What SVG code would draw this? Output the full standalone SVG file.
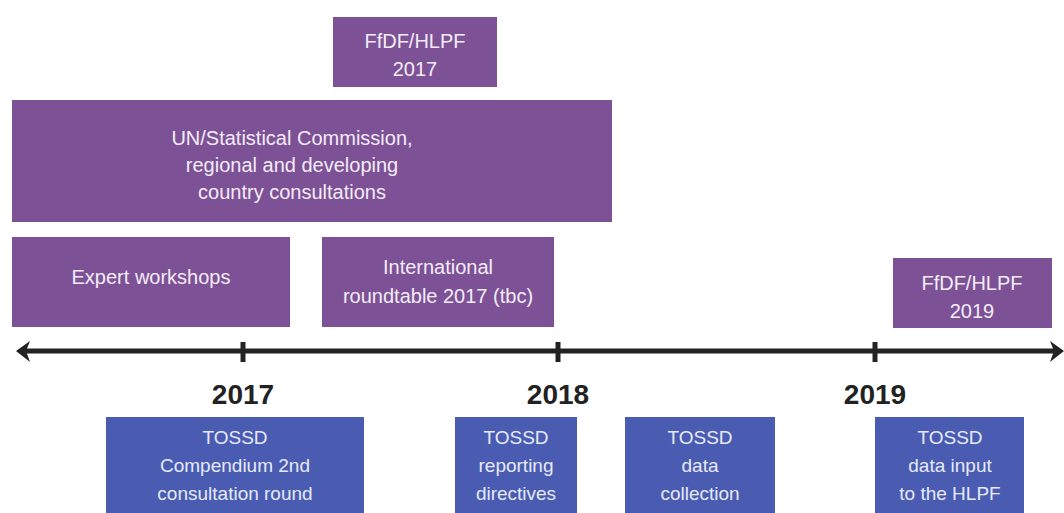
<svg xmlns="http://www.w3.org/2000/svg" width="1064" height="513" viewBox="0 0 1064 513">
<style>
.p{fill:#7d5195}
.b{fill:#4a5bb2}
.t{font-family:"Liberation Sans Narrow","Liberation Sans",Arial,sans-serif;font-size:20px;fill:#f3ecf7;text-anchor:middle}
.tb{font-family:"Liberation Sans Narrow","Liberation Sans",Arial,sans-serif;font-size:19px;fill:#e6eaf8;text-anchor:middle}
.y{font-family:"Liberation Sans Narrow","Liberation Sans",Arial,sans-serif;font-size:28px;font-weight:bold;fill:#222;text-anchor:middle}
.ln{stroke:#222;stroke-width:5;fill:none}
.tk{stroke:#222;stroke-width:5}
</style>
<rect width="1064" height="513" fill="#ffffff"/>
<g id="ffdf2017"><rect class="p" x="333" y="17" width="164" height="70"/><text class="t" x="415" y="48">FfDF/HLPF</text><text class="t" x="415" y="76">2017</text></g>
<g id="un"><rect class="p" x="12" y="100" width="600" height="122"/><text class="t" x="292" y="145">UN/Statistical Commission,</text><text class="t" x="292" y="172">regional and developing</text><text class="t" x="292" y="199">country consultations</text></g>
<g id="expert"><rect class="p" x="12" y="237" width="278" height="90"/><text class="t" x="151" y="284">Expert workshops</text></g>
<g id="roundtable"><rect class="p" x="322" y="237" width="232" height="90"/><text class="t" x="438" y="274">International</text><text class="t" x="438" y="303">roundtable 2017 (tbc)</text></g>
<g id="ffdf2019"><rect class="p" x="893" y="258" width="159" height="70"/><text class="t" x="972" y="290">FfDF/HLPF</text><text class="t" x="972" y="318">2019</text></g>
<g id="connectors">
<line class="ln" x1="26" y1="351" x2="1054" y2="351"/>
<path d="M16 351 L30 341 L26 351 L30 362 Z" fill="#222"/>
<path d="M1064 351 L1050 341 L1054 351 L1050 362 Z" fill="#222"/>
<line class="tk" x1="243" y1="342" x2="243" y2="362"/>
<line class="tk" x1="558" y1="342" x2="558" y2="362"/>
<line class="tk" x1="875" y1="342" x2="875" y2="362"/>
</g>
<g id="y2017"><text class="y" x="243" y="404">2017</text></g>
<g id="y2018"><text class="y" x="558" y="404">2018</text></g>
<g id="y2019"><text class="y" x="875" y="404">2019</text></g>
<g id="compendium"><rect class="b" x="106" y="417" width="258" height="96"/><text class="tb" x="235" y="444">TOSSD</text><text class="tb" x="235" y="472">Compendium 2nd</text><text class="tb" x="235" y="500">consultation round</text></g>
<g id="directives"><rect class="b" x="455" y="417" width="122" height="96"/><text class="tb" x="516" y="444">TOSSD</text><text class="tb" x="516" y="472">reporting</text><text class="tb" x="516" y="500">directives</text></g>
<g id="collection"><rect class="b" x="625" y="417" width="150" height="96"/><text class="tb" x="700" y="444">TOSSD</text><text class="tb" x="700" y="472">data</text><text class="tb" x="700" y="500">collection</text></g>
<g id="hlpfinput"><rect class="b" x="875" y="417" width="149" height="96"/><text class="tb" x="950" y="444">TOSSD</text><text class="tb" x="950" y="472">data input</text><text class="tb" x="950" y="500">to the HLPF</text></g>
</svg>
